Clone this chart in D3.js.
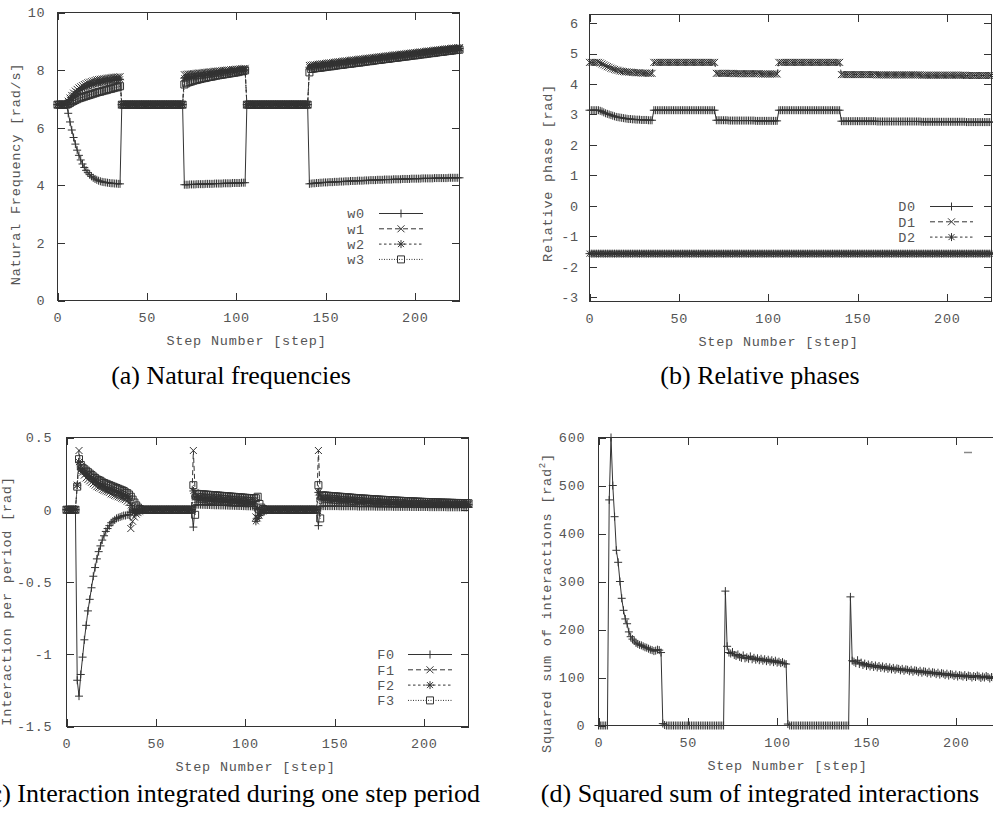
<!DOCTYPE html>
<html>
<head>
  <meta charset="utf-8">
  <title>Step response figures</title>
  <style>
    body { margin: 0; background: #fff; }
    svg { display: block; }
  </style>
  <script src="https://cdnjs.cloudflare.com/ajax/libs/d3/7.8.5/d3.min.js"></script>
</head>
<body>
<div id="chart"></div>
<script>
// one value per step, steps 0..225
// segments: idle 0-5 | adapt 6-35 | reset 36-70 | adapt 71-105 | reset 106-140 | adapt 141-225

// (a) natural frequencies [rad/s]
const w0 = [
  6.8,6.8,6.8,6.8,6.8,6.8,
  6.5,6.2,5.92,5.66,5.43,5.22,5.04,4.88,4.74,4.62,4.52,4.44,4.37,4.31,4.26,
  4.22,4.19,4.16,4.14,4.12,4.11,4.1,4.09,4.08,4.07,4.07,4.06,4.06,4.05,4.05,
  6.8,6.8,6.8,6.8,6.8,6.8,6.8,6.8,6.8,6.8,6.8,6.8,6.8,6.8,6.8,6.8,6.8,6.8,
  6.8,6.8,6.8,6.8,6.8,6.8,6.8,6.8,6.8,6.8,6.8,6.8,6.8,6.8,6.8,6.8,6.8,
  4.02,4.02,4.02,4.03,4.03,4.03,4.03,4.04,4.04,4.04,4.04,4.04,4.05,4.05,4.05,4.05,4.05,4.06,
  4.06,4.06,4.06,4.06,4.07,4.07,4.07,4.07,4.07,4.08,4.08,4.08,4.08,4.08,4.09,4.09,4.09,
  6.8,6.8,6.8,6.8,6.8,6.8,6.8,6.8,6.8,6.8,6.8,6.8,6.8,6.8,6.8,6.8,6.8,6.8,
  6.8,6.8,6.8,6.8,6.8,6.8,6.8,6.8,6.8,6.8,6.8,6.8,6.8,6.8,6.8,6.8,6.8,
  4.05,4.06,4.07,4.07,4.08,4.08,4.09,4.09,4.1,4.1,
  4.1,4.11,4.11,4.11,4.12,4.12,4.12,4.13,4.13,4.13,
  4.14,4.14,4.14,4.15,4.15,4.15,4.15,4.16,4.16,4.16,
  4.16,4.17,4.17,4.17,4.18,4.18,4.18,4.18,4.19,4.19,
  4.19,4.19,4.2,4.2,4.2,4.2,4.2,4.21,4.21,4.21,
  4.21,4.21,4.22,4.22,4.22,4.22,4.22,4.23,4.23,4.23,
  4.23,4.23,4.23,4.24,4.24,4.24,4.24,4.24,4.24,4.24,
  4.25,4.25,4.25,4.25,4.25,4.25,4.25,4.25,4.26,4.26,
  4.26,4.26,4.26,4.26,4.26
];
const w1 = [
  6.8,6.8,6.8,6.8,6.8,6.8,
  6.92,7.03,7.12,7.2,7.27,7.33,7.38,7.42,7.46,7.5,7.53,7.56,7.58,7.6,7.62,
  7.64,7.66,7.67,7.68,7.69,7.7,7.71,7.72,7.73,7.74,7.75,7.75,7.76,7.76,7.77,
  6.8,6.8,6.8,6.8,6.8,6.8,6.8,6.8,6.8,6.8,6.8,6.8,6.8,6.8,6.8,6.8,6.8,6.8,
  6.8,6.8,6.8,6.8,6.8,6.8,6.8,6.8,6.8,6.8,6.8,6.8,6.8,6.8,6.8,6.8,6.8,
  7.84,7.85,7.86,7.86,7.87,7.88,7.88,7.89,7.9,7.9,7.91,7.92,7.92,7.93,7.94,7.94,7.95,7.96,
  7.96,7.97,7.97,7.98,7.99,7.99,8.0,8.0,8.01,8.02,8.02,8.03,8.03,8.04,8.05,8.05,8.06,
  6.8,6.8,6.8,6.8,6.8,6.8,6.8,6.8,6.8,6.8,6.8,6.8,6.8,6.8,6.8,6.8,6.8,6.8,
  6.8,6.8,6.8,6.8,6.8,6.8,6.8,6.8,6.8,6.8,6.8,6.8,6.8,6.8,6.8,6.8,6.8,
  8.16,8.17,8.18,8.18,8.19,8.2,8.21,8.22,8.22,8.23,
  8.24,8.25,8.25,8.26,8.27,8.28,8.29,8.29,8.3,8.31,
  8.32,8.32,8.33,8.34,8.35,8.35,8.36,8.37,8.38,8.38,
  8.39,8.4,8.41,8.41,8.42,8.43,8.44,8.44,8.45,8.46,
  8.47,8.47,8.48,8.49,8.5,8.5,8.51,8.52,8.53,8.53,
  8.54,8.55,8.55,8.56,8.57,8.58,8.58,8.59,8.6,8.61,
  8.61,8.62,8.63,8.63,8.64,8.65,8.66,8.66,8.67,8.68,
  8.69,8.69,8.7,8.71,8.71,8.72,8.73,8.74,8.74,8.75,
  8.76,8.76,8.77,8.78,8.78
];
const w2 = [
  6.8,6.8,6.8,6.8,6.8,6.8,
  6.88,6.97,7.05,7.12,7.18,7.23,7.28,7.32,7.36,7.39,7.42,7.45,7.47,7.49,7.51,
  7.53,7.55,7.56,7.57,7.59,7.6,7.61,7.62,7.63,7.64,7.65,7.66,7.67,7.67,7.68,
  6.8,6.8,6.8,6.8,6.8,6.8,6.8,6.8,6.8,6.8,6.8,6.8,6.8,6.8,6.8,6.8,6.8,6.8,
  6.8,6.8,6.8,6.8,6.8,6.8,6.8,6.8,6.8,6.8,6.8,6.8,6.8,6.8,6.8,6.8,6.8,
  7.72,7.73,7.74,7.75,7.76,7.77,7.78,7.79,7.8,7.8,7.81,7.82,7.83,7.84,7.85,7.86,7.86,7.87,
  7.88,7.89,7.9,7.91,7.91,7.92,7.93,7.94,7.95,7.95,7.96,7.97,7.98,7.99,7.99,8.0,8.01,
  6.8,6.8,6.8,6.8,6.8,6.8,6.8,6.8,6.8,6.8,6.8,6.8,6.8,6.8,6.8,6.8,6.8,6.8,
  6.8,6.8,6.8,6.8,6.8,6.8,6.8,6.8,6.8,6.8,6.8,6.8,6.8,6.8,6.8,6.8,6.8,
  8.1,8.11,8.12,8.12,8.13,8.14,8.15,8.16,8.16,8.17,
  8.18,8.19,8.2,8.2,8.21,8.22,8.23,8.23,8.24,8.25,
  8.26,8.27,8.27,8.28,8.29,8.3,8.3,8.31,8.32,8.33,
  8.34,8.34,8.35,8.36,8.37,8.37,8.38,8.39,8.4,8.41,
  8.41,8.42,8.43,8.44,8.44,8.45,8.46,8.47,8.48,8.48,
  8.49,8.5,8.51,8.51,8.52,8.53,8.54,8.54,8.55,8.56,
  8.57,8.58,8.58,8.59,8.6,8.61,8.61,8.62,8.63,8.64,
  8.65,8.65,8.66,8.67,8.68,8.68,8.69,8.7,8.71,8.71,
  8.72,8.73,8.74,8.74,8.75
];
const w3 = [
  6.8,6.8,6.8,6.8,6.8,6.8,
  6.82,6.86,6.9,6.93,6.96,6.99,7.02,7.04,7.06,7.08,7.1,7.12,7.14,7.16,7.18,
  7.2,7.22,7.24,7.25,7.27,7.29,7.3,7.32,7.34,7.35,7.37,7.39,7.4,7.42,7.44,
  6.8,6.8,6.8,6.8,6.8,6.8,6.8,6.8,6.8,6.8,6.8,6.8,6.8,6.8,6.8,6.8,6.8,6.8,
  6.8,6.8,6.8,6.8,6.8,6.8,6.8,6.8,6.8,6.8,6.8,6.8,6.8,6.8,6.8,6.8,6.8,
  7.5,7.54,7.57,7.59,7.61,7.63,7.65,7.66,7.68,7.69,7.71,7.72,7.73,7.75,7.76,7.77,7.78,7.8,
  7.81,7.82,7.83,7.84,7.85,7.86,7.87,7.88,7.89,7.9,7.91,7.92,7.93,7.95,7.96,7.97,7.99,
  6.8,6.8,6.8,6.8,6.8,6.8,6.8,6.8,6.8,6.8,6.8,6.8,6.8,6.8,6.8,6.8,6.8,6.8,
  6.8,6.8,6.8,6.8,6.8,6.8,6.8,6.8,6.8,6.8,6.8,6.8,6.8,6.8,6.8,6.8,6.8,
  7.92,8.04,8.05,8.06,8.07,8.08,8.08,8.09,8.1,8.11,
  8.12,8.13,8.13,8.14,8.15,8.16,8.17,8.18,8.18,8.19,
  8.2,8.21,8.22,8.22,8.23,8.24,8.25,8.26,8.26,8.27,
  8.28,8.29,8.3,8.31,8.31,8.32,8.33,8.34,8.35,8.35,
  8.36,8.37,8.38,8.39,8.39,8.4,8.41,8.42,8.43,8.43,
  8.44,8.45,8.46,8.47,8.47,8.48,8.49,8.5,8.51,8.51,
  8.52,8.53,8.54,8.55,8.55,8.56,8.57,8.58,8.59,8.59,
  8.6,8.61,8.62,8.63,8.63,8.64,8.65,8.66,8.67,8.67,
  8.68,8.69,8.7,8.71,8.71
];

// (b) relative phases [rad]
const D0 = [
  3.14,3.14,3.14,3.14,3.14,3.14,
  3.12,3.1,3.07,3.04,3.02,3.0,2.98,2.96,2.94,2.92,2.91,2.9,2.89,2.88,2.87,
  2.86,2.85,2.85,2.84,2.84,2.83,2.83,2.83,2.82,2.82,2.82,2.82,2.81,2.81,2.81,
  3.14,3.14,3.14,3.14,3.14,3.14,3.14,3.14,3.14,3.14,3.14,3.14,3.14,3.14,3.14,3.14,3.14,3.14,
  3.14,3.14,3.14,3.14,3.14,3.14,3.14,3.14,3.14,3.14,3.14,3.14,3.14,3.14,3.14,3.14,3.14,
  2.81,2.81,2.81,2.81,2.81,2.81,2.81,2.8,2.8,2.8,
  2.8,2.8,2.8,2.8,2.8,2.8,2.8,2.8,2.8,2.8,
  2.8,2.8,2.79,2.79,2.79,2.79,2.79,2.79,2.79,2.79,
  2.79,2.79,2.79,2.79,2.79,
  3.14,3.14,3.14,3.14,3.14,3.14,3.14,3.14,3.14,3.14,3.14,3.14,3.14,3.14,3.14,3.14,3.14,3.14,
  3.14,3.14,3.14,3.14,3.14,3.14,3.14,3.14,3.14,3.14,3.14,3.14,3.14,3.14,3.14,3.14,3.14,
  2.78,2.78,2.78,2.78,2.78,2.78,2.78,2.78,2.78,2.78,
  2.78,2.78,2.78,2.78,2.78,2.78,2.78,2.78,2.78,2.78,
  2.77,2.77,2.77,2.77,2.77,2.77,2.77,2.77,2.77,2.77,
  2.77,2.77,2.77,2.77,2.77,2.77,2.77,2.77,2.77,2.77,
  2.77,2.77,2.77,2.77,2.77,2.76,2.76,2.76,2.76,2.76,
  2.76,2.76,2.76,2.76,2.76,2.76,2.76,2.76,2.76,2.76,
  2.76,2.76,2.76,2.76,2.76,2.76,2.76,2.76,2.76,2.76,
  2.75,2.75,2.75,2.75,2.75,2.75,2.75,2.75,2.75,2.75,
  2.75,2.75,2.75,2.75,2.75
];
const D1 = [
  4.71,4.71,4.71,4.71,4.71,4.71,
  4.69,4.66,4.63,4.6,4.57,4.55,4.52,4.5,4.48,4.46,4.45,4.43,4.42,4.41,4.4,
  4.4,4.39,4.39,4.38,4.38,4.37,4.37,4.37,4.36,4.36,4.36,4.36,4.35,4.35,4.35,
  4.71,4.71,4.71,4.71,4.71,4.71,4.71,4.71,4.71,4.71,4.71,4.71,4.71,4.71,4.71,4.71,4.71,4.71,
  4.71,4.71,4.71,4.71,4.71,4.71,4.71,4.71,4.71,4.71,4.71,4.71,4.71,4.71,4.71,4.71,4.71,
  4.35,4.35,4.35,4.35,4.35,4.35,4.35,4.35,4.35,4.35,
  4.34,4.34,4.34,4.34,4.34,4.34,4.34,4.34,4.34,4.34,
  4.34,4.34,4.34,4.34,4.34,4.33,4.33,4.33,4.33,4.33,
  4.33,4.33,4.33,4.33,4.33,
  4.71,4.71,4.71,4.71,4.71,4.71,4.71,4.71,4.71,4.71,4.71,4.71,4.71,4.71,4.71,4.71,4.71,4.71,
  4.71,4.71,4.71,4.71,4.71,4.71,4.71,4.71,4.71,4.71,4.71,4.71,4.71,4.71,4.71,4.71,4.71,
  4.31,4.31,4.31,4.31,4.31,4.31,4.31,4.31,4.31,4.31,
  4.31,4.31,4.31,4.31,4.31,4.31,4.31,4.31,4.31,4.31,
  4.3,4.3,4.3,4.3,4.3,4.3,4.3,4.3,4.3,4.3,
  4.3,4.3,4.3,4.3,4.3,4.3,4.3,4.3,4.3,4.3,
  4.3,4.3,4.3,4.3,4.3,4.29,4.29,4.29,4.29,4.29,
  4.29,4.29,4.29,4.29,4.29,4.29,4.29,4.29,4.29,4.29,
  4.29,4.29,4.29,4.29,4.29,4.29,4.29,4.29,4.29,4.29,
  4.28,4.28,4.28,4.28,4.28,4.28,4.28,4.28,4.28,4.28,
  4.28,4.28,4.28,4.28,4.28
];
const D2 = [
  -1.57,-1.57,-1.57,-1.57,-1.57,-1.57,-1.57,-1.57,-1.57,-1.57,
  -1.57,-1.57,-1.57,-1.57,-1.57,-1.57,-1.57,-1.57,-1.57,-1.57,
  -1.57,-1.57,-1.57,-1.57,-1.57,-1.57,-1.57,-1.57,-1.57,-1.57,
  -1.57,-1.57,-1.57,-1.57,-1.57,-1.57,-1.57,-1.57,-1.57,-1.57,
  -1.57,-1.57,-1.57,-1.57,-1.57,-1.57,-1.57,-1.57,-1.57,-1.57,
  -1.57,-1.57,-1.57,-1.57,-1.57,-1.57,-1.57,-1.57,-1.57,-1.57,
  -1.57,-1.57,-1.57,-1.57,-1.57,-1.57,-1.57,-1.57,-1.57,-1.57,
  -1.57,-1.57,-1.57,-1.57,-1.57,-1.57,-1.57,-1.57,-1.57,-1.57,
  -1.57,-1.57,-1.57,-1.57,-1.57,-1.57,-1.57,-1.57,-1.57,-1.57,
  -1.57,-1.57,-1.57,-1.57,-1.57,-1.57,-1.57,-1.57,-1.57,-1.57,
  -1.57,-1.57,-1.57,-1.57,-1.57,-1.57,-1.57,-1.57,-1.57,-1.57,
  -1.57,-1.57,-1.57,-1.57,-1.57,-1.57,-1.57,-1.57,-1.57,-1.57,
  -1.57,-1.57,-1.57,-1.57,-1.57,-1.57,-1.57,-1.57,-1.57,-1.57,
  -1.57,-1.57,-1.57,-1.57,-1.57,-1.57,-1.57,-1.57,-1.57,-1.57,
  -1.57,-1.57,-1.57,-1.57,-1.57,-1.57,-1.57,-1.57,-1.57,-1.57,
  -1.57,-1.57,-1.57,-1.57,-1.57,-1.57,-1.57,-1.57,-1.57,-1.57,
  -1.57,-1.57,-1.57,-1.57,-1.57,-1.57,-1.57,-1.57,-1.57,-1.57,
  -1.57,-1.57,-1.57,-1.57,-1.57,-1.57,-1.57,-1.57,-1.57,-1.57,
  -1.57,-1.57,-1.57,-1.57,-1.57,-1.57,-1.57,-1.57,-1.57,-1.57,
  -1.57,-1.57,-1.57,-1.57,-1.57,-1.57,-1.57,-1.57,-1.57,-1.57,
  -1.57,-1.57,-1.57,-1.57,-1.57,-1.57,-1.57,-1.57,-1.57,-1.57,
  -1.57,-1.57,-1.57,-1.57,-1.57,-1.57,-1.57,-1.57,-1.57,-1.57,
  -1.57,-1.57,-1.57,-1.57,-1.57,-1.57
];

// (c) interaction integrated during one step period [rad]
const F0 = [
  0,0,0,0,0,0,
  -1.18,-1.29,-1.14,-1.02,-0.9,-0.8,-0.7,-0.62,-0.54,-0.46,-0.4,-0.34,-0.29,-0.25,-0.21,
  -0.18,-0.15,-0.13,-0.11,-0.09,-0.08,-0.07,-0.06,-0.055,-0.05,-0.045,-0.04,-0.04,-0.035,-0.035,
  -0.02,-0.01,-0.005,0,0,0,0,0,0,0,
  0,0,0,0,0,0,0,0,0,0,
  0,0,0,0,0,0,0,0,0,0,
  0,0,0,0,0,
  -0.12,0.03,0.035,0.035,0.035,0.034,0.034,0.033,0.033,0.033,
  0.032,0.032,0.031,0.031,0.031,0.03,0.03,0.03,0.029,0.029,
  0.028,0.028,0.028,0.027,0.027,0.026,0.026,0.026,0.025,0.025,
  0.024,0.024,0.024,0.023,0.023,
  0.01,0.005,0,0,0,0,0,0,0,0,
  0,0,0,0,0,0,0,0,0,0,
  0,0,0,0,0,0,0,0,0,0,
  0,0,0,0,0,
  -0.11,0.02,
  0.025,0.025,0.025,0.025,0.025,0.025,0.025,0.025,0.025,0.025,
  0.024,0.024,0.024,0.024,0.024,0.024,0.024,0.024,0.024,0.024,
  0.022,0.022,0.022,0.022,0.022,0.022,0.022,0.022,0.022,0.022,
  0.021,0.021,0.021,0.021,0.021,0.021,0.021,0.021,0.021,0.021,
  0.02,0.02,0.02,0.02,0.02,0.02,0.02,0.02,0.02,0.02,
  0.019,0.019,0.019,0.019,0.019,0.019,0.019,0.019,0.019,0.019,
  0.018,0.018,0.018,0.018,0.018,0.018,0.018,0.018,0.018,0.018,
  0.017,0.017,0.017,0.017,0.017,0.017,0.017,0.017,0.017,0.017,
  0.016,0.016,0.016
];
const F1 = [
  0,0,0,0,0,0,
  0.17,0.41,0.3,0.26,0.24,0.22,0.21,0.2,0.19,0.18,0.17,0.16,0.155,0.15,0.14,
  0.135,0.13,0.125,0.12,0.11,0.105,0.1,0.095,0.09,0.085,0.08,0.075,0.07,0.06,0.05,
  -0.13,-0.08,-0.05,-0.03,-0.02,-0.01,-0.005,0,0,0,
  0,0,0,0,0,0,0,0,0,0,
  0,0,0,0,0,0,0,0,0,0,
  0,0,0,0,0,
  0.41,0.12,0.095,0.094,0.093,0.092,0.091,0.09,0.089,0.088,
  0.087,0.086,0.085,0.084,0.083,0.082,0.081,0.08,0.079,0.078,
  0.077,0.076,0.075,0.074,0.073,0.072,0.071,0.07,0.069,0.068,
  0.067,0.066,0.065,0.064,0.063,
  -0.05,-0.03,-0.02,-0.01,-0.005,0,0,0,0,0,
  0,0,0,0,0,0,0,0,0,0,
  0,0,0,0,0,0,0,0,0,0,
  0,0,0,0,0,
  0.41,0.1,
  0.085,0.084,0.083,0.082,0.081,0.08,0.079,0.078,0.077,0.076,
  0.075,0.074,0.073,0.072,0.071,0.07,0.069,0.068,0.067,0.066,
  0.065,0.064,0.064,0.063,0.062,0.061,0.061,0.06,0.059,0.058,
  0.058,0.057,0.056,0.056,0.055,0.054,0.054,0.053,0.053,0.052,
  0.052,0.051,0.051,0.05,0.05,0.049,0.049,0.048,0.048,0.047,
  0.047,0.047,0.046,0.046,0.046,0.045,0.045,0.045,0.044,0.044,
  0.044,0.044,0.043,0.043,0.043,0.043,0.042,0.042,0.042,0.042,
  0.042,0.041,0.041,0.041,0.041,0.041,0.04,0.04,0.04,0.04,
  0.04,0.04,0.04
];
const F2 = [
  0,0,0,0,0,0,
  0.17,0.33,0.28,0.27,0.26,0.25,0.24,0.23,0.22,0.21,0.2,0.19,0.18,0.175,0.17,
  0.16,0.155,0.15,0.145,0.14,0.135,0.13,0.125,0.12,0.115,0.11,0.1,0.095,0.09,0.08,
  0.03,0,-0.02,-0.02,-0.01,-0.005,0,0,0,0,
  0,0,0,0,0,0,0,0,0,0,
  0,0,0,0,0,0,0,0,0,0,
  0,0,0,0,0,
  0.13,0.09,0.07,0.069,0.068,0.067,0.066,0.065,0.064,0.063,
  0.062,0.061,0.06,0.059,0.058,0.057,0.056,0.055,0.054,0.053,
  0.052,0.051,0.05,0.049,0.048,0.047,0.046,0.045,0.044,0.043,
  0.042,0.041,0.04,0.04,0.04,
  -0.08,-0.06,-0.04,-0.02,-0.01,-0.005,0,0,0,0,
  0,0,0,0,0,0,0,0,0,0,
  0,0,0,0,0,0,0,0,0,0,
  0,0,0,0,0,
  0.12,0.1,
  0.07,0.069,0.068,0.067,0.066,0.065,0.064,0.063,0.062,0.061,
  0.06,0.059,0.058,0.058,0.057,0.056,0.055,0.055,0.054,0.053,
  0.052,0.052,0.051,0.05,0.05,0.049,0.048,0.048,0.047,0.047,
  0.046,0.046,0.045,0.045,0.044,0.044,0.043,0.043,0.042,0.042,
  0.042,0.041,0.041,0.041,0.04,0.04,0.04,0.04,0.039,0.039,
  0.039,0.039,0.038,0.038,0.038,0.038,0.038,0.037,0.037,0.037,
  0.037,0.037,0.037,0.036,0.036,0.036,0.036,0.036,0.036,0.036,
  0.036,0.035,0.035,0.035,0.035,0.035,0.035,0.035,0.035,0.035,
  0.035,0.035,0.035
];
const F3 = [
  0,0,0,0,0,0,
  0.16,0.35,0.31,0.29,0.28,0.27,0.26,0.25,0.24,0.23,0.22,0.21,0.205,0.2,0.19,
  0.185,0.18,0.175,0.17,0.165,0.16,0.155,0.15,0.145,0.14,0.135,0.13,0.12,0.115,0.105,
  0.09,0.07,0.05,0.03,0.015,0.005,0,0,0,0,
  0,0,0,0,0,0,0,0,0,0,
  0,0,0,0,0,0,0,0,0,0,
  0,0,0,0,0,
  0.17,-0.035,0.11,0.109,0.108,0.107,0.106,0.105,0.104,0.103,
  0.102,0.101,0.1,0.099,0.098,0.097,0.096,0.095,0.094,0.093,
  0.092,0.091,0.09,0.089,0.088,0.087,0.086,0.085,0.084,0.083,
  0.082,0.081,0.08,0.08,0.08,
  0.08,0.09,0.04,0.015,0.005,0,0,0,0,0,
  0,0,0,0,0,0,0,0,0,0,
  0,0,0,0,0,0,0,0,0,0,
  0,0,0,0,0,
  0.17,-0.06,
  0.1,0.099,0.098,0.097,0.096,0.095,0.094,0.093,0.092,0.091,
  0.09,0.089,0.088,0.087,0.086,0.085,0.084,0.083,0.082,0.081,
  0.08,0.079,0.078,0.077,0.077,0.076,0.075,0.074,0.073,0.072,
  0.072,0.071,0.07,0.069,0.069,0.068,0.067,0.066,0.066,0.065,
  0.064,0.064,0.063,0.062,0.062,0.061,0.06,0.06,0.059,0.059,
  0.058,0.058,0.057,0.056,0.056,0.055,0.055,0.054,0.054,0.053,
  0.053,0.052,0.052,0.051,0.051,0.051,0.05,0.05,0.049,0.049,
  0.049,0.048,0.048,0.048,0.047,0.047,0.047,0.046,0.046,0.046,
  0.046,0.045,0.045
];

// (d) squared sum of integrated interactions [rad^2]
const S = [
  0,0,0,0,0,0,
  470,600,500,435,365,340,300,265,240,222,212,195,185,180,176,
  172,170,168,167,165,163,162,160,158,157,155,156,158,157,152,
  4,1,0,0,0,0,0,0,0,0,
  0,0,0,0,0,0,0,0,0,0,
  0,0,0,0,0,0,0,0,0,0,
  0,0,0,0,0,
  280,165,152,150,153,147,145,148,143,141,
  146,140,142,139,144,138,141,137,140,136,
  139,135,138,134,137,133,136,132,135,131,
  133,130,132,129,128,
  3,0,0,0,0,0,0,0,0,0,
  0,0,0,0,0,0,0,0,0,0,
  0,0,0,0,0,0,0,0,0,0,
  0,0,0,0,0,
  268,135,
  133,130,136,128,131,126,129,124,127,123,
  126,122,125,121,124,120,123,119,122,118,
  121,117,120,116,119,118,115,118,114,117,
  116,113,116,112,115,114,111,114,110,113,
  112,109,112,108,111,110,107,110,106,109,
  108,105,108,104,107,106,103,106,102,105,
  104,102,105,101,104,103,100,103,101,104,
  102,99,102,100,103,101,98,101,100,102,
  99,101,102
];

const xTicks = [0, 50, 100, 150, 200];
const aTicks = [0, 2, 4, 6, 8, 10];
const bTicks = [-3, -2, -1, 0, 1, 2, 3, 4, 5, 6];
const cTicks = [-1.5, -1, -0.5, 0, 0.5];
const dTicks = [0, 100, 200, 300, 400, 500, 600];

const mono = "'Liberation Mono', 'DejaVu Sans Mono', monospace";
const ink = '#333';
const textInk = '#555';

const svg = d3.select('#chart').append('svg')
  .attr('width', 993)
  .attr('height', 817);

// gnuplot-like line types: solid/+, dashed/x, short dash/*, dotted/box
const styles = [
  { dash: null, mark: 'plus' },
  { dash: '5,3', mark: 'cross' },
  { dash: '2.5,2.5', mark: 'star' },
  { dash: '1,1.5', mark: 'box' }
];

function markPath(type, cx, cy) {
  const p = `M${cx - 4},${cy}H${cx + 4}M${cx},${cy - 4}V${cy + 4}`;
  const c = `M${cx - 3.5},${cy - 3.5}L${cx + 3.5},${cy + 3.5}M${cx - 3.5},${cy + 3.5}L${cx + 3.5},${cy - 3.5}`;
  const c2 = `M${cx - 3},${cy - 3}L${cx + 3},${cy + 3}M${cx - 3},${cy + 3}L${cx + 3},${cy - 3}`;
  if (type === 'plus') return p;
  if (type === 'cross') return c;
  if (type === 'star') return p + c2;
  return `M${cx - 3.5},${cy - 3.5}h7v7h-7z`;
}

const panels = [
  {
    series: [w0, w1, w2, w3], names: ['w0', 'w1', 'w2', 'w3'],
    yDomain: [0, 10], yTicks: aTicks,
    left: 57.5, right: 459.5, top: 12.5, bottom: 300.5, yPad: 12,
    yTitle: ['Natural Frequency [rad/s]'], yTitleX: 15.5, yTitleY: 174,
    legend: { textX: 365, x1: 379, x2: 423, y: 213.5 },
    caption: '(a) Natural frequencies', capX: 231, capY: 384
  },
  {
    series: [D0, D1, D2], names: ['D0', 'D1', 'D2'],
    yDomain: [-Math.PI, 2 * Math.PI], yTicks: bTicks,
    left: 589.5, right: 991.5, top: 14.5, bottom: 301.5, yPad: 10.5,
    yTitle: ['Relative phase [rad]'], yTitleX: 547, yTitleY: 173,
    legend: { textX: 916, x1: 930, x2: 973, y: 206.5 },
    caption: '(b) Relative phases', capX: 760, capY: 384
  },
  {
    series: [F0, F1, F2, F3], names: ['F0', 'F1', 'F2', 'F3'],
    yDomain: [-1.5, 0.5], yTicks: cTicks,
    left: 66.5, right: 468.5, top: 437.5, bottom: 726.5, yPad: 14,
    yTitle: ['Interaction per period [rad]'], yTitleX: 6, yTitleY: 601,
    legend: { textX: 395, x1: 408, x2: 452, y: 654.5 },
    caption: '(c) Interaction integrated during one step period', capX: 231, capY: 802
  },
  {
    series: [S], names: [],
    yDomain: [0, 600], yTicks: dTicks,
    left: 598.5, right: 1000.5, top: 437.5, bottom: 725.5, yPad: 13,
    yTitle: ['Squared sum of interactions [rad', '2', ']'], yTitleX: 546, yTitleY: 603,
    legend: null,
    caption: '(d) Squared sum of integrated interactions', capX: 760, capY: 802
  }
];

function styleAxisText(g) {
  g.attr('font-family', mono).attr('font-size', 13.5);
  g.selectAll('text').attr('fill', textInk).style('letter-spacing', '0.8px');
  g.select('.domain').remove();
  g.selectAll('line').attr('stroke', ink).attr('shape-rendering', 'crispEdges');
}

panels.forEach(p => {
  const x = d3.scaleLinear().domain([0, 225]).range([p.left, p.right]);
  const y = d3.scaleLinear().domain(p.yDomain).range([p.bottom, p.top]);
  const g = svg.append('g');

  // frame
  g.append('rect')
    .attr('x', p.left).attr('y', p.top)
    .attr('width', p.right - p.left).attr('height', p.bottom - p.top)
    .attr('fill', 'none').attr('stroke', ink)
    .attr('shape-rendering', 'crispEdges');

  // axes with inward ticks, mirrored on top and right
  g.append('g').attr('transform', `translate(0,${p.bottom})`)
    .call(d3.axisBottom(x).tickValues(xTicks).tickSize(-7.5).tickFormat(d => String(d)))
    .call(styleAxisText)
    .selectAll('text').attr('y', 16.5).attr('dy', '0.35em');
  g.append('g').attr('transform', `translate(0,${p.top})`)
    .call(d3.axisTop(x).tickValues(xTicks).tickSize(-7.5).tickFormat(''))
    .call(styleAxisText);
  g.append('g').attr('transform', `translate(${p.left},0)`)
    .call(d3.axisLeft(y).tickValues(p.yTicks).tickSize(-7.5).tickPadding(p.yPad).tickFormat(d => String(d)))
    .call(styleAxisText);
  g.append('g').attr('transform', `translate(${p.right},0)`)
    .call(d3.axisRight(y).tickValues(p.yTicks).tickSize(-7.5).tickFormat(''))
    .call(styleAxisText);

  // axis titles
  g.append('text')
    .attr('x', (p.left + p.right) / 2 - 12).attr('y', p.bottom + 39.5)
    .attr('dy', '0.35em').attr('text-anchor', 'middle')
    .attr('font-family', mono).attr('font-size', 13.5)
    .style('letter-spacing', '0.8px').attr('fill', textInk)
    .text('Step Number [step]');

  const yt = g.append('text')
    .attr('transform', `translate(${p.yTitleX},${p.yTitleY}) rotate(-90)`)
    .attr('dy', '0.35em').attr('text-anchor', 'middle')
    .attr('font-family', mono).attr('font-size', 13.5)
    .style('letter-spacing', '0.8px').attr('fill', textInk);
  yt.append('tspan').text(p.yTitle[0]);
  if (p.yTitle.length > 1) {
    yt.append('tspan').attr('font-size', 9).attr('dy', -6).text(p.yTitle[1]);
    yt.append('tspan').attr('dy', 6).text(p.yTitle[2]);
  }

  // series: line then markers at every step
  const line = d3.line().x((d, i) => x(i)).y(d => y(d));
  p.series.forEach((vals, k) => {
    const st = styles[k];
    g.append('path').datum(vals)
      .attr('d', line)
      .attr('fill', 'none').attr('stroke', ink).attr('stroke-width', 1)
      .attr('stroke-dasharray', st.dash);
    g.append('path')
      .attr('d', vals.map((v, i) => markPath(st.mark, x(i), y(v))).join(''))
      .attr('fill', 'none').attr('stroke', ink).attr('stroke-width', 1);
  });

  // legend
  if (p.legend) {
    p.names.forEach((name, k) => {
      const ly = p.legend.y + k * 15.3;
      const st = styles[k];
      g.append('text')
        .attr('x', p.legend.textX).attr('y', ly).attr('dy', '0.35em')
        .attr('text-anchor', 'end')
        .attr('font-family', mono).attr('font-size', 13.5)
        .style('letter-spacing', '0.8px').attr('fill', textInk)
        .text(name);
      g.append('line')
        .attr('x1', p.legend.x1).attr('x2', p.legend.x2)
        .attr('y1', ly).attr('y2', ly)
        .attr('stroke', ink).attr('stroke-dasharray', st.dash);
      g.append('path')
        .attr('d', markPath(st.mark, (p.legend.x1 + p.legend.x2) / 2, ly))
        .attr('fill', 'none').attr('stroke', ink);
    });
  } else {
    g.append('line')
      .attr('x1', 964).attr('x2', 972).attr('y1', 452.5).attr('y2', 452.5)
      .attr('stroke', '#888').attr('stroke-width', 1.5);
  }

  // caption
  svg.append('text')
    .attr('x', p.capX).attr('y', p.capY)
    .attr('text-anchor', 'middle')
    .attr('font-family', "'Liberation Serif', 'Times New Roman', serif")
    .attr('font-size', 26).attr('fill', '#000')
    .text(p.caption);
});

// length sanity check while building
const all = { w0, w1, w2, w3, D0, D1, D2, F0, F1, F2, F3, S };
const bad = Object.entries(all).filter(([k, v]) => v.length !== 226).map(([k, v]) => k + ':' + v.length);
if (bad.length) svg.append('text').attr('x', 300).attr('y', 410).attr('fill', 'red').text(bad.join(' '));
</script>
</body>
</html>
